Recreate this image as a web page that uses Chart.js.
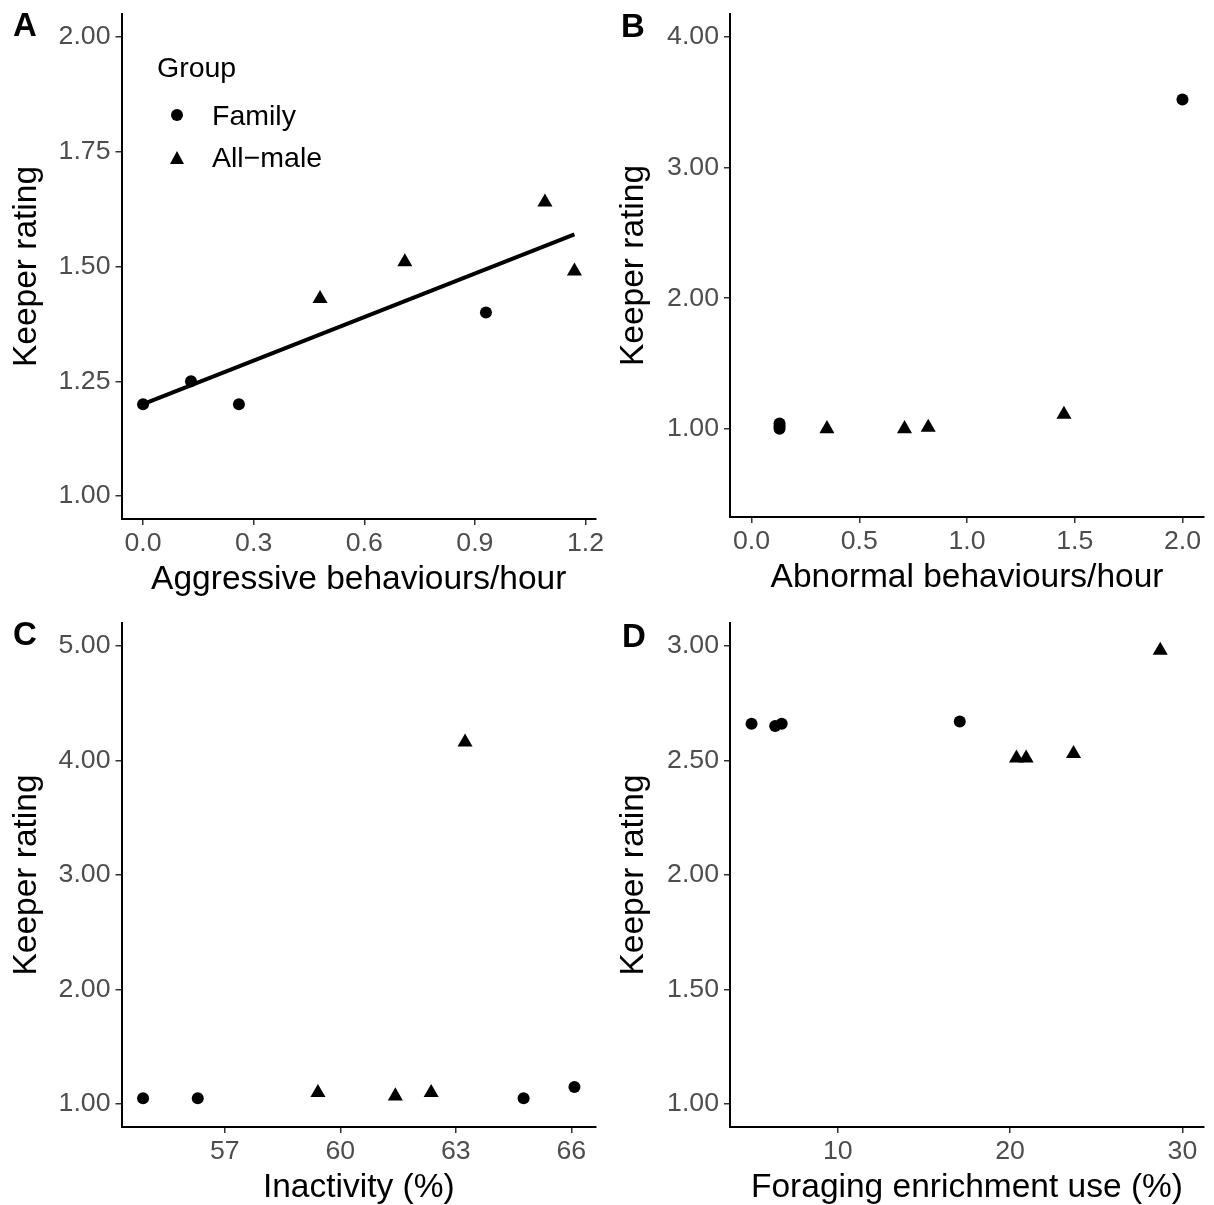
<!DOCTYPE html>
<html>
<head>
<meta charset="utf-8">
<title>Keeper rating vs behaviour</title>
<script src="https://cdn.jsdelivr.net/npm/chart.js@4.4.1/dist/chart.umd.min.js"></script>
<style>
    html, body { margin: 0; padding: 0; background: #fff; overflow: hidden; }
    body { width: 1214px; height: 1205px; position: relative; font-family: "Liberation Sans", Arial, sans-serif; }
    canvas { position: absolute; }
    .tag { position: absolute; font-weight: bold; font-size: 33px; line-height: 40px; color: #000; }
    .lg { position: absolute; font-size: 28.5px; line-height: 32px; color: #000; white-space: nowrap; }
    .dot { position: absolute; width: 12px; height: 12px; border-radius: 50%; background: #000; }
    .tri { position: absolute; width: 0; height: 0; border-left: 7.5px solid transparent; border-right: 7.5px solid transparent; border-bottom: 13px solid #000; }
</style>
</head>
<body>
<canvas id="chartA" width="607" height="600" style="left:0;top:0"></canvas>
<canvas id="chartB" width="607" height="598" style="left:607px;top:0"></canvas>
<canvas id="chartC" width="607" height="608" style="left:0;top:600px"></canvas>
<canvas id="chartD" width="607" height="608" style="left:607px;top:600px"></canvas>

<div class="tag" style="left:13px;top:5px">A</div>
<div class="tag" style="left:621px;top:6px">B</div>
<div class="tag" style="left:13px;top:614px">C</div>
<div class="tag" style="left:622px;top:616px">D</div>
<div id="legendA"></div>

<script>
    // Data
    const groups = ['Family', 'All\u2212male'];
    const yTitle = 'Keeper rating';

    // A: aggression
    const famA_x = [0, 0.13, 0.26, 0.93];
    const famA_y = [1.20, 1.25, 1.20, 1.40];
    const maleA_x = [0.48, 0.71, 1.09, 1.17];
    const maleA_y = [1.43, 1.51, 1.64, 1.49];
    const fitA_x = [0, 1.17];
    const fitA_y = [1.20, 1.57];
    const xTicksA = [0, 0.3, 0.6, 0.9, 1.2];
    const yTicksA = [1, 1.25, 1.5, 1.75, 2];

    // B: abnormal behaviour
    const famB_x = [0.13, 0.13, 0.13, 2.0];
    const famB_y = [1.00, 1.02, 1.04, 3.52];
    const maleB_x = [0.35, 0.71, 0.82, 1.45];
    const maleB_y = [1.00, 1.00, 1.01, 1.11];
    const xTicksB = [0, 0.5, 1, 1.5, 2];
    const yTicksB = [1, 2, 3, 4];

    // C: inactivity
    const famC_x = [54.88, 56.30, 64.76, 66.08];
    const famC_y = [1.05, 1.05, 1.05, 1.15];
    const maleC_x = [59.42, 61.43, 62.36, 63.24];
    const maleC_y = [1.10, 1.07, 1.10, 4.16];
    const xTicksC = [57, 60, 63, 66];
    const yTicksC = [1, 2, 3, 4, 5];

    // D: foraging enrichment
    const famD_x = [5.0, 6.37, 6.75, 17.08];
    const famD_y = [2.66, 2.65, 2.66, 2.67];
    const maleD_x = [20.37, 20.93, 23.68, 28.71];
    const maleD_y = [2.51, 2.51, 2.53, 2.98];
    const xTicksD = [10, 20, 30];
    const yTicksD = [1, 1.5, 2, 2.5, 3];

    const FONT = '"Liberation Sans", Arial, sans-serif';

    // ggplot style 5% expansion of the limits
    function expand(lo, hi) {
        const d = (hi - lo) * 0.05;
        return [lo - d, hi + d];
    }

    function toXY(xs, ys) {
        return xs.map((x, i) => ({ x: x, y: ys[i] }));
    }

    function axis(range, ticks, dec, title, isX, size) {
        return {
            type: 'linear',
            min: range[0],
            max: range[1],
            afterBuildTicks: s => { s.ticks = ticks.map(v => ({ value: v })); },
            afterFit: s => {
                if (isX) s.height = size; else s.width = size;
                // the layout padding already leaves room for the end labels
                s.paddingTop = 0; s.paddingBottom = 0; s.paddingLeft = 0; s.paddingRight = 0;
            },
            grid: { drawOnChartArea: false, drawTicks: true, tickLength: 6, color: '#333', lineWidth: 1.5 },
            border: { display: true, color: '#000', width: 2 },
            ticks: {
                padding: isX ? 2.5 : 5,
                color: '#4d4d4d',
                font: { size: 26.7, family: FONT },
                maxRotation: 0,
                autoSkip: false,
                callback: v => Number(v).toFixed(dec)
            },
            title: { display: true, text: title, color: '#000', font: { size: 33.5, family: FONT }, padding: isX ? { top: 0, bottom: 0 } : { top: 7, bottom: 0 } }
        };
    }

    function makePanel(id, p) {
        const datasets = [
            { label: groups[0], data: toXY(p.famX, p.famY), pointStyle: 'circle', pointRadius: 6, pointHoverRadius: 6,
              backgroundColor: '#000', borderColor: '#000', borderWidth: 0 },
            { label: groups[1], data: toXY(p.maleX, p.maleY), pointStyle: 'triangle', pointRadius: 8.7, pointHoverRadius: 8.7,
              backgroundColor: '#000', borderColor: '#000', borderWidth: 0 }
        ];
        if (p.fitX) {
            datasets.push({ type: 'line', label: 'fit', data: toXY(p.fitX, p.fitY), showLine: true, borderColor: '#000',
                            borderWidth: 4, pointRadius: 0, fill: false });
        }
        const canvas = document.getElementById(id);
        new Chart(canvas, {
            type: 'scatter',
            data: { datasets: datasets },
            options: {
                responsive: false,
                animation: false,
                events: [],
                layout: { padding: { left: 0, top: p.top, right: canvas.width - p.right, bottom: 0 } },
                plugins: { legend: { display: false }, tooltip: { enabled: false } },
                scales: {
                    x: axis(p.xRange, p.xTicks, p.xDec, p.xTitle, true, 81),
                    y: axis(p.yRange, p.yTicks, 2, yTitle, false, p.left)
                }
            }
        });
    }

    makePanel('chartA', {
        famX: famA_x, famY: famA_y, maleX: maleA_x, maleY: maleA_y, fitX: fitA_x, fitY: fitA_y,
        xRange: expand(0, 1.17), yRange: expand(1, 2), xTicks: xTicksA, yTicks: yTicksA, xDec: 1,
        xTitle: 'Aggressive behaviours/hour', left: 121.5, right: 596, top: 14
    });
    makePanel('chartB', {
        famX: famB_x, famY: famB_y, maleX: maleB_x, maleY: maleB_y,
        xRange: expand(0, 2), yRange: expand(0.5, 4), xTicks: xTicksB, yTicks: yTicksB, xDec: 1,
        xTitle: 'Abnormal behaviours/hour', left: 123, right: 597, top: 14
    });
    const allC = famC_x.concat(maleC_x);
    makePanel('chartC', {
        famX: famC_x, famY: famC_y, maleX: maleC_x, maleY: maleC_y,
        xRange: expand(Math.min(...allC), Math.max(...allC)), yRange: expand(1, 5), xTicks: xTicksC, yTicks: yTicksC, xDec: 0,
        xTitle: 'Inactivity (%)', left: 121.5, right: 596, top: 23
    });
    makePanel('chartD', {
        famX: famD_x, famY: famD_y, maleX: maleD_x, maleY: maleD_y,
        xRange: expand(5, 30), yRange: expand(1, 3), xTicks: xTicksD, yTicks: yTicksD, xDec: 0,
        xTitle: 'Foraging enrichment use (%)', left: 123, right: 597, top: 23
    });

    // Legend inside panel A
    function buildLegend() {
        const box = document.getElementById('legendA');
        const title = document.createElement('div');
        title.className = 'lg';
        title.style.left = '157px';
        title.style.top = '51px';
        title.textContent = 'Group';
        box.appendChild(title);
        const shapes = ['dot', 'tri'];
        groups.forEach((g, i) => {
            const cy = 115 + i * 42;
            const sym = document.createElement('div');
            sym.className = shapes[i];
            sym.style.left = (i === 0 ? 171 : 169.5) + 'px';
            sym.style.top = (cy - 6.5) + 'px';
            box.appendChild(sym);
            const lab = document.createElement('div');
            lab.className = 'lg';
            lab.style.left = '212px';
            lab.style.top = (cy - 16) + 'px';
            lab.textContent = g;
            box.appendChild(lab);
        });
    }
    buildLegend();
</script>
</body>
</html>
